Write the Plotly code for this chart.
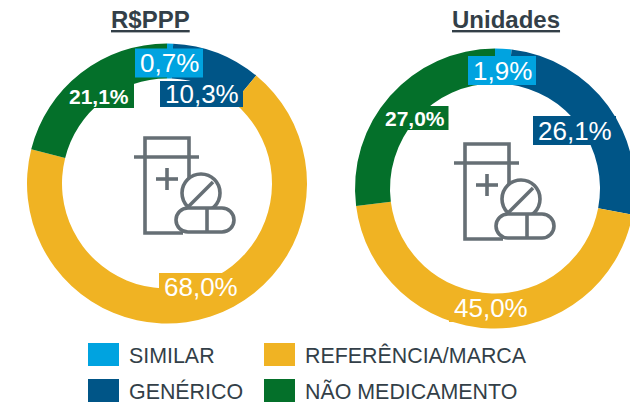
import plotly.graph_objects as go

# Data
categories = ["SIMILAR", "GENÉRICO", "REFERÊNCIA/MARCA", "NÃO MEDICAMENTO"]
rppp_values = [0.7, 10.3, 68.0, 21.1]
unidades_values = [1.9, 26.1, 45.0, 27.0]
colors = ["#00a3e0", "#005587", "#f0b323", "#04702a"]
chart_titles = ["R$PPP", "Unidades"]

W, H = 640, 403
INK = "#333f48"
ICON = "#666f75"
FONT = "Liberation Sans, Arial, sans-serif"

def fx(x): return x / W
def fy(y): return 1 - y / H

def domain(x0, y0, size):
    return dict(x=[fx(x0), fx(x0 + size)], y=[fy(y0 + size), fy(y0)])

fig = go.Figure()
for vals, dom, name in [(rppp_values, domain(27, 43.5, 280), chart_titles[0]),
                        (unidades_values, domain(355, 48.5, 280), chart_titles[1])]:
    fig.add_trace(go.Pie(labels=categories, values=vals, name=name, domain=dom, hole=0.75,
                         sort=False, direction="clockwise", rotation=0,
                         marker=dict(colors=colors, line=dict(width=0)),
                         textinfo="none", hoverinfo="label+value", showlegend=False))

ann, shapes = [], []

def label(value, x0, y0, x1, y1, bg, size=26, bold=False, text_cx=None):
    txt = f"{value:.1f}%".replace(".", ",")
    if bold:
        txt = f"<b>{txt}</b>"
    shapes.append(dict(type="rect", xref="paper", yref="paper", x0=fx(x0), x1=fx(x1),
                       y0=fy(y0), y1=fy(y1), fillcolor=bg, line=dict(width=0)))
    cx = (x0 + x1) / 2 if text_cx is None else text_cx
    ann.append(dict(text=txt, xref="paper", yref="paper", x=fx(cx), y=fy((y0 + y1) / 2),
                    xanchor="center", yanchor="middle", showarrow=False,
                    font=dict(family=FONT, size=size, color="white")))

# left donut labels
label(rppp_values[0], 135, 48.5, 203, 77.5, colors[0])
label(rppp_values[1], 160, 81, 243, 107, colors[1])
label(rppp_values[2], 159, 273, 243, 301, colors[2])
label(rppp_values[3], 70, 84, 134, 108, colors[3], size=21, bold=True, text_cx=99.3)
# right donut labels
label(unidades_values[0], 468, 56, 536, 85, colors[0])
label(unidades_values[1], 533, 116, 616, 145, colors[1])
label(unidades_values[2], 449, 294, 533, 322, colors[2])
label(unidades_values[3], 385, 106, 448.5, 130, colors[3], size=21, bold=True, text_cx=414.7)

# titles
for t, cx in zip(chart_titles, [150.5, 505.5]):
    ann.append(dict(text=f"<b><u>{t}</u></b>", xref="paper", yref="paper", x=fx(cx), y=fy(19),
                    xanchor="center", yanchor="middle", showarrow=False,
                    font=dict(family=FONT, size=24, color=INK)))

# legend
legend_pos = [(88, 343), (88, 379), (264, 343), (264, 379)]
for (lx, ly), c, cat in zip(legend_pos, colors, categories):
    shapes.append(dict(type="rect", xref="paper", yref="paper", x0=fx(lx), x1=fx(lx + 31),
                       y0=fy(ly), y1=fy(ly + 23), fillcolor=c, line=dict(width=0)))
    ann.append(dict(text=cat, xref="paper", yref="paper", x=fx(lx + 39), y=fy(ly + 12.5),
                    xanchor="left", yanchor="middle", showarrow=False,
                    font=dict(family=FONT, size=21.4, color=INK)))

# pictogram
LW = 3.6

def path(d, fill="rgba(0,0,0,0)"):
    shapes.append(dict(type="path", xref="paper", yref="paper", path=d, fillcolor=fill,
                       line=dict(color=ICON, width=LW)))

def P(x, y): return f"{fx(x):.5f},{fy(y):.5f}"

def icon(dx, dy):
    path(f"M{P(dx+183,dy+233)} L{P(dx+145,dy+233)} L{P(dx+145,dy+138)} L{P(dx+189,dy+138)} L{P(dx+189,dy+178)}")
    path(f"M{P(dx+134,dy+157)} L{P(dx+199,dy+157)}")
    path(f"M{P(dx+156,dy+179)} L{P(dx+178,dy+179)}")
    path(f"M{P(dx+167,dy+168)} L{P(dx+167,dy+190)}")
    shapes.append(dict(type="circle", xref="paper", yref="paper",
                       x0=fx(dx+182), x1=fx(dx+220), y0=fy(dy+174), y1=fy(dy+212),
                       fillcolor="white", line=dict(color=ICON, width=LW)))
    path(f"M{P(dx+188,dy+207)} L{P(dx+213,dy+182)}")
    # capsule drawn with cubic corners
    l, r, t, b, k = dx+176, dx+234, dy+208, dy+232, 12
    c = 6.6
    path(f"M{P(l+k,t)} L{P(r-k,t)} C{P(r-k+c,t)} {P(r,t+k-c)} {P(r,t+k)} "
         f"C{P(r,b-k+c)} {P(r-k+c,b)} {P(r-k,b)} L{P(l+k,b)} "
         f"C{P(l+k-c,b)} {P(l,b-k+c)} {P(l,t+k)} C{P(l,t+k-c)} {P(l+k-c,t)} {P(l+k,t)} Z", fill="white")
    path(f"M{P(dx+207,dy+208)} L{P(dx+207,dy+232)}")

icon(0, 0)
icon(320, 6)

fig.update_layout(width=W, height=H, margin=dict(l=0, r=0, t=0, b=0), autosize=False,
                  paper_bgcolor="white", annotations=ann, shapes=shapes)

fig.write_html("out.html", config=dict(displayModeBar=False),
               post_script="document.body.style.margin='0';document.documentElement.style.overflow='hidden';document.body.style.overflow='hidden';")
